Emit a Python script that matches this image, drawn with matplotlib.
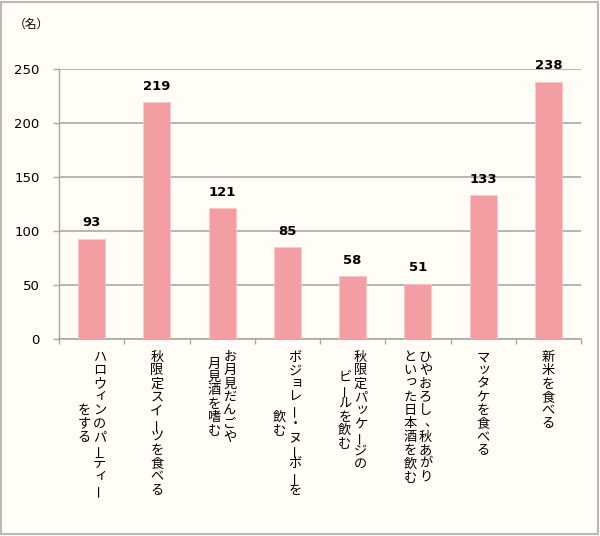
import numpy as np
import matplotlib.pyplot as plt
from matplotlib.patches import Rectangle

plt.rcParams['font.family'] = ['Noto Sans CJK JP', 'DejaVu Sans']

# data
labels = [
    ["ハロウィンのパーティー", "をする"],
    ["秋限定スイーツを食べる"],
    ["お月見だんごや", "月見酒を嗜む"],
    ["ボジョレー・ヌーボーを", "飲む"],
    ["秋限定パッケージの", "ビールを飲む"],
    ["ひやおろし、秋あがり", "といった日本酒を飲む"],
    ["マッタケを食べる"],
    ["新米を食べる"],
]
values = [93, 219, 121, 85, 58, 51, 133, 238]
yticks = [0, 50, 100, 150, 200, 250]

bg = '#FFFDF6'
grid_col = '#A8A8A8'
bar_col = '#F29EA3'
small_kana = 'ァィゥェォッャュョぁぃぅぇぉっゃゅょ'

fig = plt.figure(figsize=(6, 5.36), dpi=100, facecolor=bg)
ax = fig.add_axes([59/600, 1 - 339/536, 522/600, 270/536], facecolor=bg)

x = np.arange(len(values))
ax.bar(x, values, width=0.41, color=bar_col, edgecolor='#F8C8CB', linewidth=0.6, zorder=3)

ax.set_xlim(-0.5, len(values) - 0.5)
ax.set_ylim(0, 250)
ax.set_yticks(yticks)
ax.set_yticklabels([str(v) for v in yticks], fontsize=9.5, family='DejaVu Sans')
ax.set_xticks(np.arange(-0.5, len(values)))
ax.set_xticklabels([])
ax.yaxis.grid(True, color=grid_col, linewidth=1.2, zorder=0)
ax.tick_params(axis='y', length=4, width=1, color=grid_col, pad=10)
ax.tick_params(axis='x', length=3.5, width=1, color=grid_col)
for s in ['top', 'right']:
    ax.spines[s].set_visible(False)
ax.spines['left'].set_color(grid_col)
ax.spines['bottom'].set_color(grid_col)
ax.spines['left'].set_linewidth(1)
ax.spines['bottom'].set_linewidth(1.2)

# value labels
for i, v in enumerate(values):
    ax.annotate(str(v), xy=(i, v), xytext=(0, 11.5), textcoords='offset points',
                ha='center', va='center', fontsize=9.5, fontweight='bold',
                family='DejaVu Sans')

# vertical category labels (each char upright, columns right to left, centred)
px = 0.72
pitch = 13.3
for i, cols in enumerate(labels):
    n = len(cols)
    m = max(len(c) for c in cols)
    for j, line in enumerate(cols):
        dx = ((n - 1) / 2 - j) * 15.5
        top = 18.5 + (m - len(line)) / 2 * pitch
        for k, ch in enumerate(line):
            cx, cy = dx, top + k * pitch
            rot = 0
            if ch == 'ー':
                rot = 90
                cx += 1
            elif ch in small_kana:
                cx += 1.5
                cy -= 1.5
            elif ch == '、':
                cx += 5
                cy -= 1
            ax.annotate(ch, xy=(i, 0), xytext=(cx * px, -cy * px), textcoords='offset points',
                        ha='center', va='center', fontsize=9.5, rotation=rot,
                        annotation_clip=False)

fig.text(31/600, 1 - 24/536, '（名）', ha='center', va='center', fontsize=8.5)

fig.patches.append(Rectangle((0.002, 0.003), 0.995, 0.994, transform=fig.transFigure,
                             fill=False, edgecolor='#B8B8B8', linewidth=1.5))

fig.savefig('out.png', dpi=100, facecolor=bg)
